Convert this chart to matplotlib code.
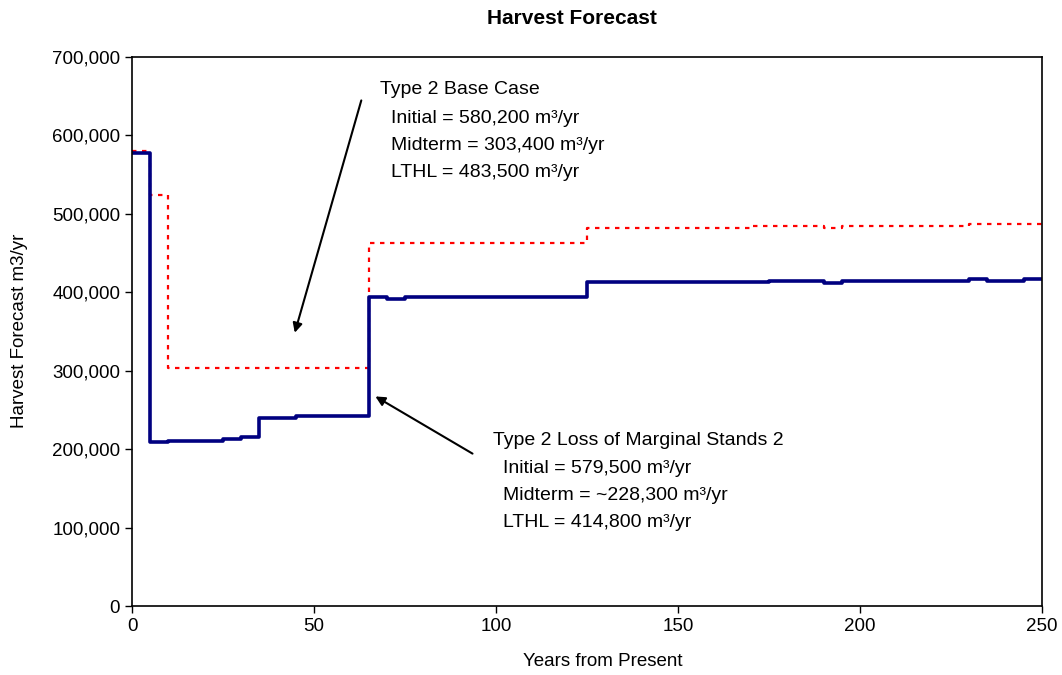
import matplotlib.pyplot as plt
import matplotlib.ticker as mticker
import numpy as np

plt.rcParams['font.family'] = ['Liberation Sans', 'DejaVu Sans']

# step breakpoints (years) and harvest levels (m3/yr)
loss_x = [0, 5, 10, 25, 30, 35, 45, 65, 70, 75, 125, 175, 190, 195, 230, 235, 245, 250]
loss_y = [578000, 209000, 211000, 212500, 215000, 240000, 242000, 394000, 391000,
          393500, 413000, 414500, 412000, 414500, 416500, 414500, 416500, 416500]

base_x = [0, 5, 10, 65, 125, 170, 190, 195, 230, 250]
base_y = [580200, 524000, 303400, 463000, 482000, 484500, 482000, 484500, 486500, 486500]

base_txt = ["Type 2 Base Case", "Initial = 580,200 m³/yr",
            "Midterm = 303,400 m³/yr", "LTHL = 483,500 m³/yr"]
loss_txt = ["Type 2 Loss of Marginal Stands 2", "Initial = 579,500 m³/yr",
            "Midterm = ~228,300 m³/yr", "LTHL = 414,800 m³/yr"]

fig = plt.figure(figsize=(10.62, 6.75), dpi=100)
ax = fig.add_axes([0.1243, 0.1022, 0.8569, 0.8134])

ax.step(base_x, base_y, where='post', color='red', lw=1.6, ls=(0, (2, 2.5)))
ax.step(loss_x, loss_y, where='post', color='#000080', lw=2.6)

ax.set_xlim(0, 250)
ax.set_ylim(0, 700000)
ax.set_xticks(np.arange(0, 251, 50))
ax.set_yticks(np.arange(0, 700001, 100000))
ax.yaxis.set_major_formatter(mticker.FuncFormatter(lambda v, p: f"{int(v):,}"))
ax.tick_params(labelsize=13.5, length=5, width=1, colors='black')
for s in ax.spines.values():
    s.set_linewidth(1.2)

fig.text(603 / 1062, 1 - 662 / 675, "Years from Present", fontsize=13.5,
         ha='center', va='center')
fig.text(20 / 1062, 1 - 331 / 675, "Harvest Forecast m3/yr", fontsize=13.5,
         ha='center', va='center', rotation=90)
fig.text(572 / 1062, 1 - 18 / 675, "Harvest Forecast", fontsize=15,
         fontweight='bold', ha='center', va='center')

# annotation blocks
ys = [658000, 622000, 587000, 553000]
for i, t in enumerate(base_txt):
    ax.text(68.1 if i == 0 else 71.2, ys[i], t, fontsize=14, va='center')
ys2 = [211500, 175000, 140500, 106000]
for i, t in enumerate(loss_txt):
    ax.text(99.2 if i == 0 else 101.9, ys2[i], t, fontsize=14, va='center')

ax.annotate("", xy=(44.5, 345000), xytext=(63.2, 648000),
            arrowprops=dict(arrowstyle='-|>', color='black', lw=1.5, mutation_scale=14))
ax.annotate("", xy=(66.2, 269000), xytext=(94.2, 192500),
            arrowprops=dict(arrowstyle='-|>', color='black', lw=1.5, mutation_scale=14))

fig.savefig('out.png', dpi=100)
